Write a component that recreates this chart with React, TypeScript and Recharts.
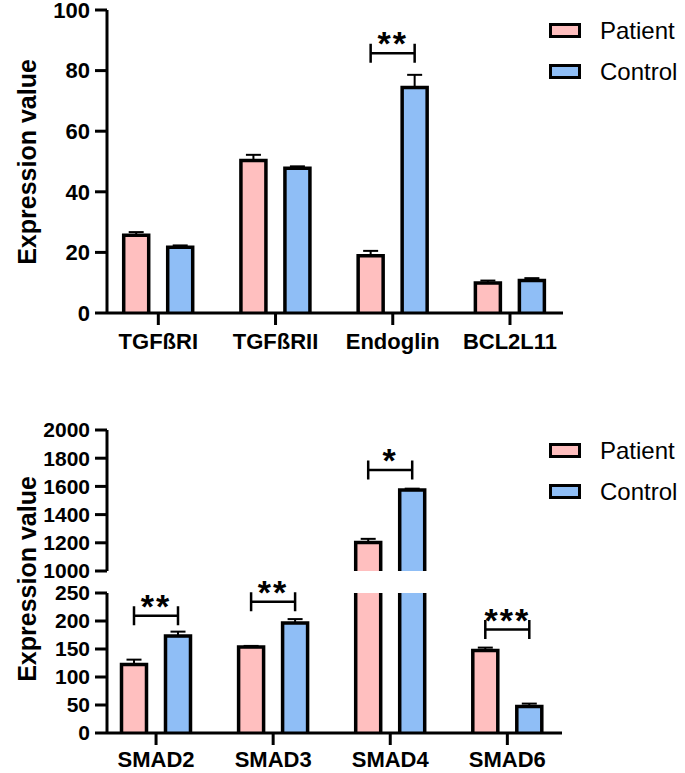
import React from 'react';
import { BarChart, Bar, XAxis, YAxis, ErrorBar, LabelList, Legend } from 'recharts';

const FONT = "'Liberation Sans', Arial, Helvetica, sans-serif";
const PINK = '#FFBFBF';
const BLUE = '#8FBEF6';
const BAR_SIZE = 25;
const BAR_GAP = 19;

const seriesNames = ['Patient', 'Control'];

// top panel
const genes = ['TGFßRI', 'TGFßRII', 'Endoglin', 'BCL2L11'];
const genePatient = [25.7, 50.3, 18.9, 9.9];
const genePatientSem = [1.0, 1.9, 1.6, 0.8];
const geneControl = [21.7, 47.8, 74.4, 10.7];
const geneControlSem = [0.6, 0.6, 4.2, 0.8];
const geneBracket = [null, null, 85.7, null];
const geneStars = ['', '', '**', ''];
const geneTicks = [0, 20, 40, 60, 80, 100];

// bottom panel (broken axis)
const smads = ['SMAD2', 'SMAD3', 'SMAD4', 'SMAD6'];
const smadPatient = [122.5, 153.5, 1203, 147.5];
const smadPatientSem = [8.5, 2, 25, 5];
const smadControl = [173, 196.4, 1574, 47.5];
const smadControlSem = [8, 7, 10, 5];
const smadBracket = [209.5, 234.5, 1716, 184.8];
const smadStars = ['**', '**', '*', '***'];
const upperTicks = [1000, 1200, 1400, 1600, 1800, 2000];
const lowerTicks = [0, 50, 100, 150, 200, 250];

const inRange = (v: number | null, lo: number, hi: number) => v != null && v >= lo && v <= hi;

function makeRows(
  cats: string[], p: number[], pe: number[], c: number[], ce: number[], lo: number, hi: number,
) {
  return cats.map((name, i) => ({
    name,
    patient: p[i] > lo ? p[i] : null,
    control: c[i] > lo ? c[i] : null,
    patientErr: inRange(p[i], lo, hi) ? [0, pe[i]] : null,
    controlErr: inRange(c[i], lo, hi) ? [0, ce[i]] : null,
  }));
}

const geneRows = makeRows(genes, genePatient, genePatientSem, geneControl, geneControlSem, 0, 100);
const upperRows = makeRows(smads, smadPatient, smadPatientSem, smadControl, smadControlSem, 1000, 2000);
const lowerRows = makeRows(smads, smadPatient, smadPatientSem, smadControl, smadControlSem, 0, 250);

// bar with open bottom so the broken axis pieces look right
const BarShape = (props: any) => {
  const { x, y, width, height, fill } = props;
  if (![x, y, width, height].every(Number.isFinite) || height <= 0) return null;
  return (
    <g>
      <rect x={x} y={y} width={width} height={height} fill={fill} />
      <path
        d={`M${x},${y + height}V${y}H${x + width}V${y + height}`}
        fill="none"
        stroke="#000"
        strokeWidth={3.5}
      />
    </g>
  );
};

const bracketLabel = (
  cats: string[], controlVals: number[], brackets: (number | null)[], stars: string[], lo: number, hi: number,
) => (props: any) => {
  const i = cats.indexOf(props.value);
  if (i < 0) return null;
  const b = brackets[i];
  if (b == null || !inRange(b, lo, hi)) return null;
  const vb = props.viewBox ?? props;
  const { x, y, width, height } = vb;
  if (![x, y, width, height].every(Number.isFinite) || height <= 0) return null;
  const pxPerUnit = height / (controlVals[i] - lo);
  const yLine = y + height - (b - lo) * pxPerUnit;
  const x2 = x + width / 2;
  const x1 = x2 - (BAR_SIZE + BAR_GAP);
  return (
    <g>
      <path
        d={`M${x1},${yLine - 9.5}V${yLine + 9.5}M${x1},${yLine}H${x2}M${x2},${yLine - 9.5}V${yLine + 9.5}`}
        stroke="#000"
        strokeWidth={2.5}
        fill="none"
      />
      <text
        x={(x1 + x2) / 2}
        y={yLine + 2}
        textAnchor="middle"
        fontSize={34}
        fontWeight="bold"
        letterSpacing={2}
        fontFamily={FONT}
        fill="#000"
      >
        {stars[i]}
      </text>
    </g>
  );
};

const renderLegend = (props: any) => {
  const items = [...(props.payload || [])].sort(
    (a: any, b: any) => seriesNames.indexOf(a.value) - seriesNames.indexOf(b.value),
  );
  return (
    <div>
      {items.map((p: any) => (
        <div key={p.value} style={{ display: 'flex', alignItems: 'center', height: 41 }}>
          <span
            style={{
              display: 'inline-block',
              width: 32,
              height: 15,
              boxSizing: 'border-box',
              border: '3px solid #000',
              background: p.payload?.fill ?? p.color,
              marginRight: 19,
            }}
          />
          <span style={{ fontSize: 24, fontFamily: FONT, color: '#000', lineHeight: '41px' }}>{p.value}</span>
        </div>
      ))}
    </div>
  );
};

const axisLine = { stroke: '#000', strokeWidth: 3 };
const tickFont = (size: number) => ({ fill: '#000', fontSize: size, fontWeight: 'bold', fontFamily: FONT });

const YLabel = ({ cy }: { cy: number }) => (
  <div
    style={{
      position: 'absolute',
      left: 27,
      top: cy,
      transform: 'translate(-50%, -50%) rotate(-90deg)',
      whiteSpace: 'nowrap',
      fontSize: 25,
      fontWeight: 'bold',
      lineHeight: 1,
      fontFamily: FONT,
      color: '#000',
    }}
  >
    Expression value
  </div>
);

function Series({ cats, control, brackets, stars, lo, hi }: any) {
  return [
    <Bar key="p" dataKey="patient" name={seriesNames[0]} fill={PINK} shape={BarShape} isAnimationActive={false}>
      <ErrorBar dataKey="patientErr" width={7.5} strokeWidth={2} stroke="#000" direction="y" />
    </Bar>,
    <Bar key="c" dataKey="control" name={seriesNames[1]} fill={BLUE} shape={BarShape} isAnimationActive={false}>
      <ErrorBar dataKey="controlErr" width={7.5} strokeWidth={2} stroke="#000" direction="y" />
      <LabelList dataKey="name" content={bracketLabel(cats, control, brackets, stars, lo, hi)} />
    </Bar>,
  ];
}

export default function App() {
  const gap = { left: -9.5, right: -3.9 };
  return (
    <div style={{ position: 'absolute', left: 0, top: 0, width: 685, height: 773, fontFamily: FONT, background: '#fff' }}>
      {/* svg starts a bit above the page so the top tick label is not clipped */}
      <div style={{ position: 'absolute', left: 0, top: -12 }}>
        <BarChart width={685} height={372} data={geneRows} barSize={BAR_SIZE} barGap={BAR_GAP}
          margin={{ top: 22, right: 122, bottom: 0, left: 0 }}>
          <XAxis dataKey="name" height={47} interval={0} tickSize={12} tickMargin={8}
            padding={{ left: -7.3, right: -5.6 }} axisLine={axisLine} tickLine={axisLine} tick={tickFont(22)} />
          <YAxis width={107} domain={[0, 100]} ticks={geneTicks} interval={0} tickSize={12} tickMargin={5}
            axisLine={axisLine} tickLine={axisLine} tick={tickFont(22)} />
          <Legend layout="vertical" align="center" verticalAlign="middle" content={renderLegend}
            wrapperStyle={{ left: 549, top: 21.5, width: 134, height: 82 }} />
          {Series({ cats: genes, control: geneControl, brackets: geneBracket, stars: geneStars, lo: 0, hi: 100 })}
        </BarChart>
      </div>
      <YLabel cy={161.5} />

      <div style={{ position: 'absolute', left: 0, top: 400 }}>
        <BarChart width={685} height={181} data={upperRows} barSize={BAR_SIZE} barGap={BAR_GAP}
          margin={{ top: 30, right: 123, bottom: 10, left: 0 }}>
          <XAxis dataKey="name" hide padding={gap} />
          <YAxis width={107} domain={[1000, 2000]} ticks={upperTicks} allowDataOverflow interval={0}
            tickSize={12} tickMargin={5} axisLine={axisLine} tickLine={axisLine} tick={tickFont(21)} />
          <Legend layout="vertical" align="center" verticalAlign="middle" content={renderLegend}
            wrapperStyle={{ left: 549, top: 30, width: 134, height: 82 }} />
          {Series({ cats: smads, control: smadControl, brackets: smadBracket, stars: smadStars, lo: 1000, hi: 2000 })}
        </BarChart>
      </div>
      <div style={{ position: 'absolute', left: 0, top: 560 }}>
        <BarChart width={685} height={213} data={lowerRows} barSize={BAR_SIZE} barGap={BAR_GAP}
          margin={{ top: 33, right: 123, bottom: 0, left: 0 }}>
          <XAxis dataKey="name" height={40} interval={0} tickSize={12} tickMargin={6}
            padding={gap} axisLine={axisLine} tickLine={axisLine} tick={tickFont(22)} />
          <YAxis width={107} domain={[0, 250]} ticks={lowerTicks} allowDataOverflow interval={0}
            tickSize={12} tickMargin={5} axisLine={axisLine} tickLine={axisLine} tick={tickFont(21)} />
          {Series({ cats: smads, control: smadControl, brackets: smadBracket, stars: smadStars, lo: 0, hi: 250 })}
        </BarChart>
      </div>
      <YLabel cy={578.5} />
    </div>
  );
}
